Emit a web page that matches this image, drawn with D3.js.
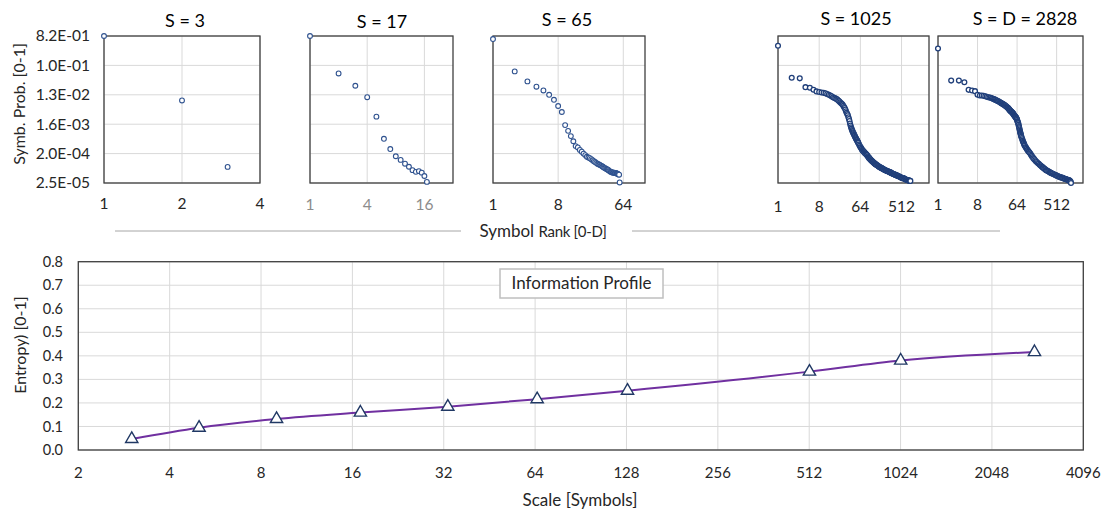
<!DOCTYPE html>
<html><head><meta charset="utf-8">
<script src="https://cdn.jsdelivr.net/npm/d3@7"></script>
<style>body{margin:0;background:#fff;} svg{display:block;} text{font-family:Lato,"Open Sans",sans-serif;}</style>
</head><body><svg id="c" width="1105" height="512"></svg>
<script>
// ---------- data: top panels (symbol rank vs probability) ----------
const probTickValues = [0.82, 0.1025, 0.0128, 0.0016, 0.0002, 0.000025];
const probTickLabels = ["8.2E-01","1.0E-01","1.3E-02","1.6E-03","2.0E-04","2.5E-05"];
const panelTitles = ["S = 3","S = 17","S = 65","S = 1025","S = D = 2828"];
const panelRankTicks = [[1,2,4],[1,4,16],[1,8,64],[1,8,64,512],[1,8,64,512]];
const panelRankMax = [4,32,128,2048,2048];

const s3Points = [[1,0.82],[2,0.0086],[3,0.000078]];
const s17Points = [[1,0.82],[2,0.058],[3,0.0243],[4,0.0108],[5,0.00273],[6,0.00057],[7,0.000276],[8,0.000166],[9,0.000128],[10,0.000098],[11,0.000079],[12,0.000062],[13,0.000055],[14,0.000058],[15,0.000052],[16,0.000041],[17,0.000027]];
const s65Points = [[1,0.66],[2,0.067],[3,0.033],[4,0.0227],[5,0.0174],[6,0.0128],[7,0.009],[8,0.0058],[9,0.0038],[10,0.0015],[11,0.001],[12,0.00069],[13,0.00048],[14,0.00034],[15,0.00031],[16,0.00026],[17,0.00023],[18,0.0002],[19,0.00018],[20,0.00016],[21,0.000152],[22,0.000145],[23,0.000135],[24,0.000125],[25,0.000117],[26,0.00011],[27,0.000104],[28,0.000098],[29,0.000094],[30,0.000091],[31,0.000087],[32,0.000084],[33,0.00008],[34,0.000076],[35,0.000073],[36,0.000071],[37,0.000068],[38,0.000066],[39,0.000064],[40,0.000062],[41,0.000059],[42,0.000056],[43,0.000055],[44,0.000054],[45,0.000053],[46,0.000052],[47,0.000052],[48,0.000052],[49,0.000051],[50,0.000051],[51,0.00005],[52,0.000049],[53,0.000048],[54,0.000047],[55,0.000046],[56,0.000045],[57,0.000026]];
const s1025Points = [[1,0.41],[2,0.043],[3,0.041],[4,0.022],[5,0.021],[6,0.0183],[7,0.0163],[8,0.0156],[9,0.015],[10,0.0147],[11,0.0142],[12,0.0135],[13,0.0128],[14,0.0121],[15,0.0115],[16,0.0108],[17,0.0104],[18,0.01],[19,0.0096],[20,0.0092],[21,0.0086],[22,0.0081],[23,0.0076],[24,0.0072],[25,0.0068],[26,0.0064],[27,0.0059],[28,0.0054],[29,0.005],[30,0.0045],[31,0.004],[32,0.0036],[33,0.0033],[34,0.003],[35,0.0026],[36,0.0023],[37,0.002],[38,0.00167],[39,0.00145],[40,0.00129],[41,0.00117],[42,0.00106],[43,0.00098],[44,0.00091],[45,0.00085],[46,0.0008],[47,0.00075],[48,0.00071],[49,0.00066],[50,0.00062],[51,0.00059],[52,0.00056],[53,0.00053],[54,0.00051],[55,0.00049],[56,0.00046],[57,0.00044],[58,0.00042],[60,0.00038],[62,0.00035],[64,0.00032],[66,0.0003],[68,0.00028],[70,0.00026],[72,0.000248],[74,0.000238],[76,0.00023],[78,0.00022],[80,0.00021],[82,0.000205],[84,0.000197],[86,0.00019],[88,0.000183],[90,0.000177],[93,0.000166],[96,0.000156],[98,0.00015],[100,0.000145],[103,0.000138],[105,0.000134],[108,0.000129],[110,0.000125],[113,0.000121],[115,0.000118],[118,0.000114],[121,0.00011],[125,0.000106],[128,0.000103],[131,0.0001],[134,0.000098],[137,0.000095],[140,0.000093],[145,0.00009],[150,0.000087],[155,0.000084],[160,0.000081],[165,0.000079],[170,0.000077],[175,0.000075],[180,0.000074],[185,0.000072],[190,0.000071],[195,0.000069],[200,0.000068],[206,0.000066],[212,0.000065],[218,0.000063],[225,0.000062],[232,0.00006],[240,0.000059],[248,0.000058],[256,0.000057],[264,0.000056],[272,0.000055],[281,0.000054],[290,0.000053],[298,0.000052],[305,0.000051],[312,0.00005],[320,0.000049],[330,0.000048],[340,0.000047],[350,0.0000465],[360,0.000046],[370,0.000045],[380,0.000044],[390,0.0000435],[400,0.000043],[412,0.000042],[425,0.000041],[437,0.0000405],[450,0.00004],[465,0.000039],[480,0.000038],[496,0.000037],[512,0.000036],[526,0.0000358],[540,0.0000355],[555,0.0000352],[570,0.000035],[585,0.000034],[600,0.000033],[620,0.0000325],[640,0.000032],[660,0.0000315],[680,0.000031],[700,0.0000305],[720,0.00003],[740,0.0000298],[760,0.0000295],[780,0.0000292],[800,0.000029]];
const s2828Points = [[1,0.338],[2,0.035],[3,0.035],[4,0.031],[5,0.0182],[6,0.0174],[7,0.0166],[8,0.0128],[9,0.0122],[10,0.0122],[11,0.0119],[12,0.0116],[13,0.0112],[14,0.0108],[15,0.0106],[16,0.0104],[17,0.01],[18,0.0097],[19,0.0094],[20,0.0091],[21,0.0088],[22,0.0086],[23,0.0083],[24,0.0081],[25,0.0078],[26,0.0076],[27,0.0073],[28,0.0071],[29,0.0069],[30,0.0067],[31,0.0065],[32,0.0064],[33,0.0062],[34,0.006],[35,0.0058],[36,0.0057],[37,0.0055],[38,0.0053],[39,0.0051],[40,0.005],[41,0.0048],[42,0.0046],[43,0.0044],[44,0.0043],[45,0.0041],[46,0.004],[47,0.0039],[48,0.0038],[49,0.0037],[50,0.0036],[51,0.0035],[52,0.0034],[53,0.0032],[54,0.0031],[55,0.003],[56,0.0029],[57,0.0028],[58,0.0027],[59,0.00265],[60,0.0026],[61,0.0025],[62,0.0024],[63,0.0023],[64,0.0022],[65,0.002],[66,0.0019],[67,0.0018],[68,0.0017],[69,0.00155],[70,0.0014],[71,0.0013],[72,0.0012],[73,0.0011],[74,0.001],[75,0.00093],[76,0.00087],[77,0.00081],[78,0.00076],[79,0.00071],[80,0.00066],[82,0.0006],[84,0.00055],[86,0.0005],[88,0.00046],[90,0.00043],[92,0.0004],[94,0.00037],[96,0.00035],[100,0.00032],[103,0.0003],[106,0.00028],[110,0.00026],[114,0.000245],[118,0.00023],[123,0.000215],[128,0.0002],[133,0.000185],[138,0.00017],[144,0.000157],[150,0.000145],[157,0.000135],[165,0.000125],[172,0.000117],[180,0.00011],[190,0.000103],[200,0.000097],[210,0.000091],[220,0.000086],[230,0.000082],[240,0.000078],[248,0.000075],[256,0.000072],[268,0.000069],[280,0.000066],[290,0.000063],[300,0.000061],[315,0.000059],[330,0.000057],[345,0.000055],[360,0.000053],[375,0.0000515],[390,0.00005],[405,0.000049],[420,0.000048],[442,0.0000465],[465,0.000045],[488,0.0000435],[512,0.000042],[536,0.000041],[560,0.00004],[580,0.000039],[600,0.000038],[625,0.0000375],[650,0.000037],[675,0.0000365],[700,0.000036],[730,0.000035],[760,0.000034],[790,0.0000335],[820,0.000033],[850,0.0000325],[880,0.000032],[915,0.0000315],[950,0.000031],[975,0.0000305],[1000,0.00003],[1025,0.000029],[1050,0.000028],[1070,0.000027],[1090,0.000025]];
const panelPoints = [s3Points, s17Points, s65Points, s1025Points, s2828Points];

// ---------- data: bottom chart (information profile) ----------
const scaleValues = [3,5,9,17,33,65,129,513,1025,2828];
const entropyValues = [0.047,0.095,0.132,0.159,0.184,0.216,0.252,0.333,0.38,0.416];
const scaleTicks = [2,4,8,16,32,64,128,256,512,1024,2048,4096];
const entropyTicks = [0,0.1,0.2,0.3,0.4,0.5,0.6,0.7,0.8];

// ---------- drawing ----------
const svg = d3.select("#c");
svg.append("rect").attr("width",1105).attr("height",512).attr("fill","#fff");

const boxes = [
  {x0:104,x1:260,ty:21,ly:204,tx:185},
  {x0:310,x1:453,ty:22,ly:205,tx:382},
  {x0:493,x1:645,ty:20,ly:205,tx:567},
  {x0:778,x1:929,ty:19,ly:207,tx:856},
  {x0:938,x1:1083,ty:19,ly:205,tx:1025}
];
const pTop = 36, pBot = 183;
const yP = d3.scaleLog().domain([0.000025,0.82]).range([pBot,pTop]);

boxes.forEach((b,i)=>{
  const g = svg.append("g");
  const x = d3.scaleLog().base(2).domain([1,panelRankMax[i]]).range([b.x0,b.x1]);
  g.selectAll(".hg").data(probTickValues).enter().append("line")
    .attr("x1",b.x0).attr("x2",b.x1).attr("y1",d=>yP(d)).attr("y2",d=>yP(d))
    .attr("stroke","#d9d9d9").attr("stroke-width",1);
  g.selectAll(".vg").data(panelRankTicks[i]).enter().append("line")
    .attr("x1",d=>x(d)).attr("x2",d=>x(d)).attr("y1",pTop).attr("y2",pBot)
    .attr("stroke","#d9d9d9").attr("stroke-width",1);
  g.append("rect").attr("x",b.x0).attr("y",pTop).attr("width",b.x1-b.x0).attr("height",pBot-pTop)
    .attr("fill","none").attr("stroke","#404040").attr("stroke-width",1.3);
  g.selectAll(".xl").data(panelRankTicks[i]).enter().append("text")
    .attr("x",d=>x(d)).attr("y",b.ly).attr("dy","0.35em").attr("text-anchor","middle")
    .attr("font-size",15.5).attr("fill", i===1 ? "#8c8c8c" : "#262626").text(d=>d);
  g.append("text").attr("x",b.tx).attr("y",b.ty).attr("dy","0.35em").attr("text-anchor","middle")
    .attr("font-size",18).attr("fill","#000").text(panelTitles[i]);
  g.selectAll("circle").data(panelPoints[i]).enter().append("circle")
    .attr("cx",d=>x(d[0])).attr("cy",d=>yP(d[1])).attr("r",2.4)
    .attr("fill","#fff").attr("stroke", i>=3 ? "#203f7a" : "#2f528f").attr("stroke-width", i>=3 ? 1.3 : 1.1);
});

svg.selectAll(".yl").data(probTickValues).enter().append("text")
  .attr("x",90).attr("y",d=>yP(d)).attr("dy","0.35em").attr("text-anchor","end")
  .attr("font-size",15.5).attr("fill","#262626").text((d,i)=>probTickLabels[i]);
svg.append("text").attr("transform","translate(19,104) rotate(-90)").attr("dy","0.35em")
  .attr("text-anchor","middle").attr("font-size",16).attr("fill","#262626").text("Symb. Prob. [0-1]");

svg.append("line").attr("x1",115).attr("x2",461).attr("y1",231).attr("y2",231).attr("stroke","#a6a6a6");
svg.append("line").attr("x1",632).attr("x2",1000).attr("y1",231).attr("y2",231).attr("stroke","#a6a6a6");
const sr = svg.append("text").attr("x",543).attr("y",231).attr("dy","0.35em").attr("text-anchor","middle").attr("fill","#262626");
sr.append("tspan").attr("font-size",17).text("Symbol ");
sr.append("tspan").attr("font-size",15).attr("letter-spacing",-0.3).text("Rank [0-D]");

// ---------- bottom chart ----------
const L=78.3, R=1083.3, T=261.7, B=450;
const xS = d3.scaleLog().base(2).domain([2,4096]).range([L,R]);
const yE = d3.scaleLinear().domain([0,0.8]).range([B,T]);
const gb = svg.append("g");
gb.selectAll(".hg").data(entropyTicks).enter().append("line")
  .attr("x1",L).attr("x2",R).attr("y1",d=>yE(d)).attr("y2",d=>yE(d)).attr("stroke","#d9d9d9");
gb.selectAll(".vg").data(scaleTicks).enter().append("line")
  .attr("x1",d=>xS(d)).attr("x2",d=>xS(d)).attr("y1",T).attr("y2",B).attr("stroke","#d9d9d9");
gb.append("rect").attr("x",L).attr("y",T).attr("width",R-L).attr("height",B-T)
  .attr("fill","none").attr("stroke","#404040").attr("stroke-width",1.3);
gb.selectAll(".xl").data(scaleTicks).enter().append("text")
  .attr("x",d=>xS(d)).attr("y",473).attr("dy","0.35em").attr("text-anchor","middle")
  .attr("font-size",15).attr("fill","#262626").text(d=>d);
gb.selectAll(".yl").data(entropyTicks).enter().append("text")
  .attr("x",63).attr("y",d=>yE(d)).attr("dy","0.35em").attr("text-anchor","end")
  .attr("font-size",14.5).attr("fill","#262626").text(d=>d.toFixed(1));
gb.append("text").attr("x",580).attr("y",500).attr("dy","0.35em").attr("text-anchor","middle")
  .attr("font-size",17).attr("fill","#262626").text("Scale [Symbols]");
gb.append("text").attr("transform","translate(20,345) rotate(-90)").attr("dy","0.35em")
  .attr("text-anchor","middle").attr("font-size",16).attr("fill","#262626").text("Entropy) [0-1]");
gb.append("rect").attr("x",500).attr("y",269).attr("width",163).attr("height",29)
  .attr("fill","#fff").attr("stroke","#bfbfbf").attr("stroke-width",1.5);
gb.append("text").attr("x",581.5).attr("y",283.5).attr("dy","0.35em").attr("text-anchor","middle")
  .attr("font-size",17).attr("fill","#262626").text("Information Profile");
const prof = scaleValues.map((s,i)=>[s,entropyValues[i]]);
gb.append("path").datum(prof)
  .attr("d",d3.line().x(d=>xS(d[0])).y(d=>yE(d[1])).curve(d3.curveMonotoneX))
  .attr("fill","none").attr("stroke","#7030a0").attr("stroke-width",2);
gb.selectAll(".tri").data(prof).enter().append("path")
  .attr("transform",d=>`translate(${xS(d[0])},${yE(d[1])})`)
  .attr("d",d3.symbol(d3.symbolTriangle,65))
  .attr("fill","#fff").attr("stroke","#203864").attr("stroke-width",1.4);
</script></body></html>
